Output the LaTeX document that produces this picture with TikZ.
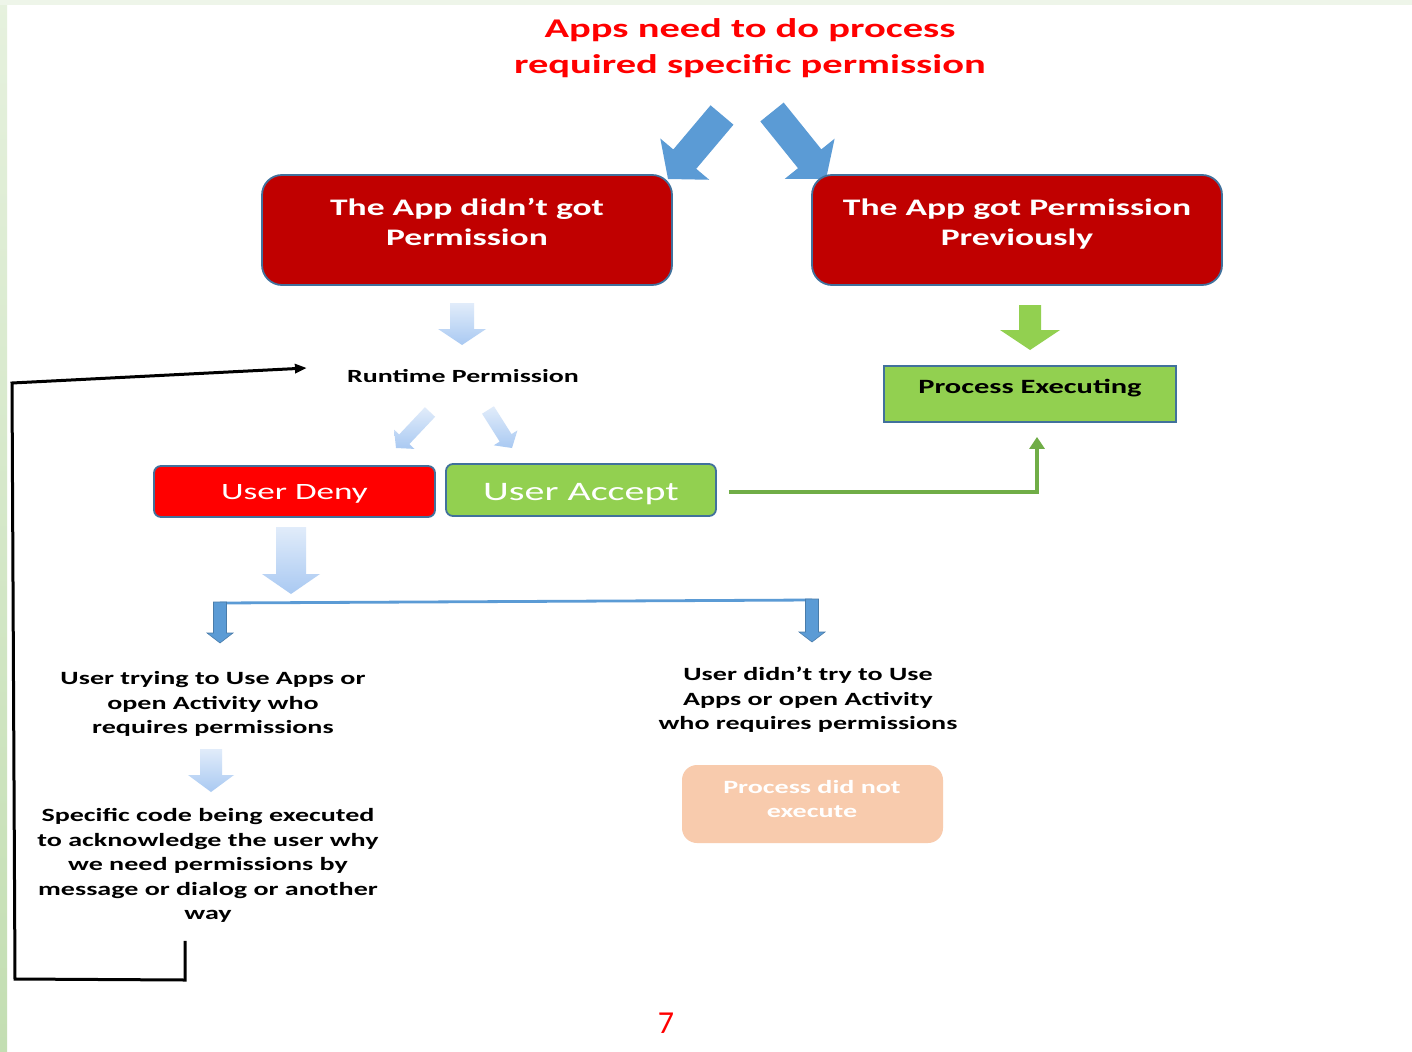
\documentclass[tikz,border=0pt]{standalone}
\usepackage{fontspec}
\setmainfont[FakeStretch=1.5]{Carlito}
\newfontfamily\plaincal{Carlito}
\usetikzlibrary{arrows.meta,calc}
\definecolor{tred}{HTML}{FF0000}
\definecolor{dred}{HTML}{C00000}
\definecolor{bord}{HTML}{41719C}
\definecolor{mblue}{HTML}{5B9BD5}
\definecolor{lgreen}{HTML}{92D050}
\definecolor{dgreen}{HTML}{70AD47}
\definecolor{peach}{HTML}{F8CBAD}
\definecolor{lbtop}{HTML}{E1ECFA}
\definecolor{lbbot}{HTML}{A9C9F2}
\definecolor{stripa}{HTML}{E6F1DE}
\definecolor{stripb}{HTML}{C3DEB2}
\definecolor{stript}{HTML}{EEF5E9}
\newcommand\blkarrow[6]{%
  \coordinate (bas) at (#2);
  \coordinate (bae) at (#3);
  \coordinate (bah) at ($(bae)!#6!(bas)$);
  \path[#1] ($(bas)!#4!90:(bae)$) -- ($(bah)!#4!-90:(bas)$) -- ($(bah)!#5!-90:(bas)$) -- (bae) -- ($(bah)!#5!90:(bas)$) -- ($(bah)!#4!90:(bas)$) -- ($(bas)!#4!-90:(bae)$) -- cycle;
}
\begin{document}
\begin{tikzpicture}[x=1pt,y=-1pt,
  box/.style={draw=bord,line width=1.8pt,inner sep=0pt},
  redbox/.style={box,fill=dred,rounded corners=20pt,minimum width=410pt,minimum height=110pt},
  body/.style={align=center,font=\bfseries\fontsize{18.7}{24.5}\selectfont,inner sep=0pt},
  boxtext/.style={align=center,text=white,font=\bfseries\fontsize{23.7}{30}\selectfont,inner sep=0pt},
  lightarrow/.style={shade,top color=lbtop,bottom color=lbbot},
  bluearrow/.style={fill=mblue},
  smallblue/.style={fill=mblue,draw=mblue!80!black,line width=0.6pt},
  greenarrow/.style={fill=lgreen},
  loopline/.style={line width=3pt,line join=miter,-{Triangle[length=12pt,width=9pt]}},
]
\useasboundingbox (0,0) rectangle (1412,1051);
\fill[white] (0,0) rectangle (1412,1051);
\shade[top color=stripa,bottom color=stripb] (0,0) rectangle (7,1051);
\fill[stript] (0,0) rectangle (1412,5);

% title
\node[align=center,text=tred,font=\bfseries\fontsize{27}{36}\selectfont,inner sep=0pt] (title) at (750,48) {Apps need to do process\\required specific permission};

% big blue arrows
\blkarrow{bluearrow}{722,115}{668,179}{15pt}{32pt}{26pt}
\blkarrow{bluearrow}{772,112}{826,179}{15pt}{32pt}{26pt}

% red boxes
\node[redbox] (nogot) at (467,230) {};
\node[boxtext] (nogottext) at (467,222) {The App didn’t got\\Permission};
\node[redbox] (got) at (1017,230) {};
\node[boxtext] (gottext) at (1017,224) {The App got Permission\\Previously};

% arrows below red boxes
\blkarrow{lightarrow}{462,303}{462,345}{12pt}{24pt}{16pt}
\blkarrow{greenarrow}{1030,305}{1030,350}{11pt}{30pt}{20pt}

% runtime permission
\node[font=\bfseries\fontsize{18.6}{22}\selectfont,inner sep=0pt] (runtime) at (463,376) {Runtime Permission};

% process executing
\node[box,fill=lgreen,minimum width=292pt,minimum height=56pt] (exec) at (1030,394) {};
\node[font=\bfseries\fontsize{20.3}{24}\selectfont,inner sep=0pt] (exectext) at (1030,388) {Process Executing};

% small diagonal arrows
\blkarrow{lightarrow}{430,412}{396,448}{7pt}{14pt}{12pt}
\blkarrow{lightarrow}{488,410}{512,448}{7pt}{14pt}{12pt}

% user deny / accept
\node[box,fill=tred,rounded corners=7pt,minimum width=281pt,minimum height=51pt] (deny) at (294.5,491.5) {};
\node[text=white,font=\fontsize{23.4}{28}\selectfont,inner sep=0pt] (denytext) at (294.5,493.5) {User Deny};
\node[box,fill=lgreen,rounded corners=7pt,minimum width=270pt,minimum height=52pt] (accept) at (581,490) {};
\node[text=white,font=\fontsize{26.7}{30}\selectfont,inner sep=0pt] (accepttext) at (581,494) {User Accept};

% green connector
\coordinate (accout) at ($(accept.east)+(12,2)$);
\coordinate (execin) at ($(exec.south)+(7,14)$);
\draw[dgreen,line width=3.2pt,-{Triangle[length=12pt,width=15pt]}] (accout) -| (execin);

% deny down arrow
\blkarrow{lightarrow}{291,527}{291,594}{15pt}{29pt}{20pt}

% bracket
\coordinate (brl) at (220,603);
\coordinate (brr) at (812,600);
\draw[mblue,line width=2.8pt] (brl) -- (brr);
\blkarrow{smallblue}{220,602}{220,643}{6.5pt}{13pt}{10pt}
\blkarrow{smallblue}{812,599}{812,642}{6.5pt}{13pt}{10pt}

% left texts
\node[body] (trying) at (213,704) {User trying to Use Apps or\\open Activity who\\requires permissions};
\blkarrow{lightarrow}{211,749}{211,792}{11pt}{23pt}{17pt}
\node[body] (specific) at (208,865.5) {Specific code being executed\\to acknowledge the user why\\we need permissions by\\message or dialog or another\\way};

% right texts
\node[body] (didnt) at (808,700) {User didn’t try to Use\\Apps or open Activity\\who requires permissions};
\node[fill=peach,rounded corners=15pt,minimum width=261pt,minimum height=78pt,inner sep=0pt] (notexec) at (812.5,804) {};
\node[body,text=white] (notexectext) at (812,799) {Process did not\\execute};

% loop back line
\coordinate (loopstart) at ($(specific.south)+(-23,18)$);
\coordinate (loopend) at ($(runtime.west)+(-40,-8)$);
\draw[loopline] (loopstart) -- (185,980) -- (15,979) -- (12,383) -- (loopend);

% page number
\node[text=tred,font=\plaincal\fontsize{32}{36}\selectfont,inner sep=0pt] (pagenum) at (666,1023) {7};
\end{tikzpicture}
\end{document}
